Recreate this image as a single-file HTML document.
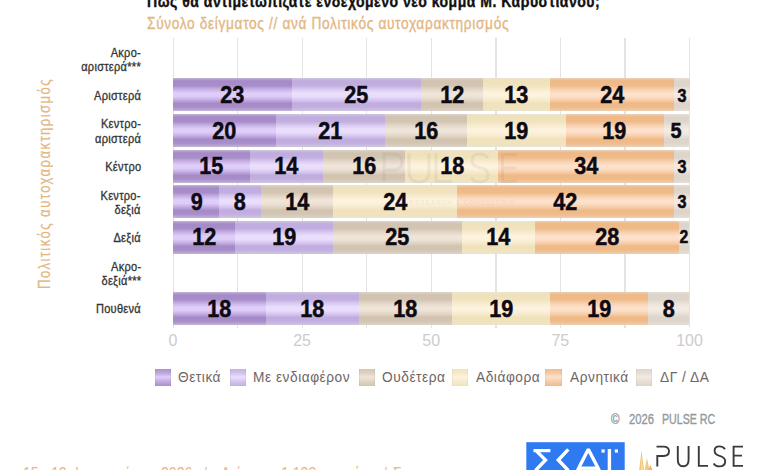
<!DOCTYPE html>
<html><head><meta charset="utf-8">
<style>
html,body{margin:0;padding:0;background:#fff;}
body{width:780px;height:470px;overflow:hidden;position:relative;font-family:"Liberation Sans",sans-serif;}
.abs{position:absolute;white-space:nowrap;}
.title{position:absolute;left:147px;top:-8.3px;font-weight:bold;font-size:17px;color:#111;white-space:nowrap;letter-spacing:0.6px;-webkit-text-stroke:0.4px #111;transform-origin:0 0;transform:scaleX(0.826);}
.sub{position:absolute;left:147px;top:13.5px;font-size:17px;color:#e3b682;white-space:nowrap;letter-spacing:0.8px;-webkit-text-stroke:0.35px #e3b682;transform-origin:0 0;transform:scaleX(0.807);}
.ytitle{position:absolute;left:35.5px;top:288.5px;font-size:16px;color:#e3b682;letter-spacing:1.75px;white-space:nowrap;-webkit-text-stroke:0.2px #e3b682;transform-origin:0 0;transform:rotate(-90deg) scaleX(0.82);}
.gl{position:absolute;top:38px;width:1.3px;height:290px;background:#e3e3e3;}
.seg{position:absolute;display:flex;align-items:center;justify-content:center;overflow:visible;}
.v{font-weight:bold;font-size:24px;color:#0d0a12;display:inline-block;transform:scaleX(0.9);line-height:1;-webkit-text-stroke:0.5px #0d0a12;}
.v.sm5{font-size:22px;}
.v.sm3{font-size:18px;margin-top:1.5px;}
.v.sm2{font-size:17.5px;margin-top:1px;}
.c1{background:linear-gradient(to bottom,#c2b6d6 0%,#b4a0cf 4%,#a58ac8 9%,#a88dca 23%,#c8b3e6 35%,#e0cefa 46%,#ddcbf8 56%,#c5afe4 66%,#a58ac8 77%,#a88dca 88%,#b4a0cf 94%,#c2b6d6 100%);}
.c2{background:linear-gradient(to bottom,#d0c7de 0%,#c8bade 4%,#c0acdf 9%,#c2afe0 23%,#dacbf1 35%,#ebdffd 46%,#e9dcfc 56%,#d8c8f0 66%,#c0acdf 77%,#c2afe0 88%,#c8bade 94%,#d0c7de 100%);}
.c3{background:linear-gradient(to bottom,#dcd4ca 0%,#d7ccbd 4%,#d2c3b0 9%,#d3c5b2 23%,#e3d7c8 35%,#efe5d8 46%,#eee3d6 56%,#e2d6c6 66%,#d2c3b0 77%,#d3c5b2 88%,#d7ccbd 94%,#dcd4ca 100%);}
.c4{background:linear-gradient(to bottom,#ebe4cf 0%,#ede3c5 4%,#efe2bb 9%,#f0e3bd 23%,#f7ecd0 35%,#fdf3de 46%,#fcf2dc 56%,#f7ebce 66%,#efe2bb 77%,#f0e3bd 88%,#ede3c5 94%,#ebe4cf 100%);}
.c5{background:linear-gradient(to bottom,#ead0b8 0%,#ecc49e 4%,#efb985 9%,#f0bb89 23%,#f7d1b0 35%,#fde1cc 46%,#fcdfc8 56%,#f7cfac 66%,#efb985 77%,#f0bb89 88%,#ecc49e 94%,#ead0b8 100%);}
.c6{background:linear-gradient(to bottom,#e4dfd8 0%,#e0dad1 4%,#ddd5ca 9%,#ded6cb 23%,#eae2d9 35%,#f3ebe3 46%,#f2eae2 56%,#e9e1d8 66%,#ddd5ca 77%,#ded6cb 88%,#e0dad1 94%,#e4dfd8 100%);}
.leg.c1{background:linear-gradient(to bottom,#ae94d0 0%,#baa2da 20%,#e0cefa 48%,#c0a9de 75%,#ab91cd 100%);box-shadow:inset 1px 0 1px rgba(0,0,0,0.05),inset -1px 0 1px rgba(0,0,0,0.05);}
.leg.c2{background:linear-gradient(to bottom,#c6b4e3 0%,#cfbeea 20%,#ebdffd 48%,#d3c3ec 75%,#c4b1e2 100%);box-shadow:inset 1px 0 1px rgba(0,0,0,0.05),inset -1px 0 1px rgba(0,0,0,0.05);}
.leg.c3{background:linear-gradient(to bottom,#d6c8b6 0%,#dccfbe 20%,#efe5d8 48%,#dfd2c2 75%,#d5c6b4 100%);box-shadow:inset 1px 0 1px rgba(0,0,0,0.05),inset -1px 0 1px rgba(0,0,0,0.05);}
.leg.c4{background:linear-gradient(to bottom,#f1e5c0 0%,#f4e8c7 20%,#fdf3de 48%,#f5eacb 75%,#f0e4be 100%);box-shadow:inset 1px 0 1px rgba(0,0,0,0.05),inset -1px 0 1px rgba(0,0,0,0.05);}
.leg.c5{background:linear-gradient(to bottom,#f1bf90 0%,#f4c79e 20%,#fde1cc 48%,#f5cba5 75%,#f0bd8c 100%);box-shadow:inset 1px 0 1px rgba(0,0,0,0.05),inset -1px 0 1px rgba(0,0,0,0.05);}
.leg.c6{background:linear-gradient(to bottom,#e0d8ce 0%,#e5ddd3 20%,#f3ebe3 48%,#e7dfd5 75%,#dfd7cc 100%);box-shadow:inset 1px 0 1px rgba(0,0,0,0.05),inset -1px 0 1px rgba(0,0,0,0.05);}
.cat{position:absolute;right:639px;font-size:12px;color:#333;text-align:right;line-height:14.3px;letter-spacing:0.3px;transform-origin:100% 50%;transform:translateY(-50%) scaleX(0.92);margin-top:0.9px;white-space:nowrap;-webkit-text-stroke:0.3px #333;}
.tk{position:absolute;top:332px;width:60px;text-align:center;font-size:16px;color:#cccccc;}
.leg{position:absolute;top:369px;width:16.5px;height:16.5px;}
.lt{position:absolute;top:368px;font-size:15.5px;color:#6e6566;white-space:nowrap;line-height:18px;letter-spacing:0.6px;transform-origin:0 50%;transform:scaleX(0.885);}
.copy{position:absolute;top:411px;font-size:14px;color:#91989c;white-space:nowrap;-webkit-text-stroke:0.35px #91989c;transform-origin:0 0;transform:scaleX(0.82);}
.ft{position:absolute;top:464.5px;font-size:16px;color:#ecb680;white-space:nowrap;transform-origin:0 0;transform:scaleX(0.88);}
</style></head><body>
<div class="title">Πώς θα αντιμετωπίζατε ενδεχόμενο νέο κόμμα Μ. Καρυστιανού;</div>
<div class="sub">Σύνολο δείγματος // ανά Πολιτικός αυτοχαρακτηρισμός</div>
<div class="ytitle">Πολιτικός αυτοχαρακτηρισμός</div>
<div class="gl" style="left:172.50px"></div>
<div class="gl" style="left:237.06px"></div>
<div class="gl" style="left:301.62px"></div>
<div class="gl" style="left:366.19px"></div>
<div class="gl" style="left:430.75px"></div>
<div class="gl" style="left:495.31px"></div>
<div class="gl" style="left:559.88px"></div>
<div class="gl" style="left:624.44px"></div>
<div class="gl" style="left:689.00px"></div>
<div class="seg c1" style="left:173.00px;top:78.40px;width:118.80px;height:33px"><span class="v">23</span></div>
<div class="seg c2" style="left:291.80px;top:78.40px;width:129.12px;height:33px"><span class="v">25</span></div>
<div class="seg c3" style="left:420.92px;top:78.40px;width:61.98px;height:33px"><span class="v">12</span></div>
<div class="seg c4" style="left:482.90px;top:78.40px;width:67.15px;height:33px"><span class="v">13</span></div>
<div class="seg c5" style="left:550.05px;top:78.40px;width:123.96px;height:33px"><span class="v">24</span></div>
<div class="seg c6" style="left:674.00px;top:78.40px;width:15.50px;height:33px"><span class="v sm3">3</span></div>
<div class="seg c1" style="left:173.00px;top:114.00px;width:103.30px;height:33px"><span class="v">20</span></div>
<div class="seg c2" style="left:276.30px;top:114.00px;width:108.46px;height:33px"><span class="v">21</span></div>
<div class="seg c3" style="left:384.76px;top:114.00px;width:82.64px;height:33px"><span class="v">16</span></div>
<div class="seg c4" style="left:467.41px;top:114.00px;width:98.13px;height:33px"><span class="v">19</span></div>
<div class="seg c5" style="left:565.54px;top:114.00px;width:98.13px;height:33px"><span class="v">19</span></div>
<div class="seg c6" style="left:663.67px;top:114.00px;width:25.83px;height:33px"><span class="v sm5">5</span></div>
<div class="seg c1" style="left:173.00px;top:149.60px;width:77.47px;height:33px"><span class="v">15</span></div>
<div class="seg c2" style="left:250.47px;top:149.60px;width:72.31px;height:33px"><span class="v">14</span></div>
<div class="seg c3" style="left:322.78px;top:149.60px;width:82.64px;height:33px"><span class="v">16</span></div>
<div class="seg c4" style="left:405.43px;top:149.60px;width:92.97px;height:33px"><span class="v">18</span></div>
<div class="seg c5" style="left:498.39px;top:149.60px;width:175.61px;height:33px"><span class="v">34</span></div>
<div class="seg c6" style="left:674.00px;top:149.60px;width:15.50px;height:33px"><span class="v sm3">3</span></div>
<div class="seg c1" style="left:173.00px;top:185.20px;width:46.49px;height:33px"><span class="v">9</span></div>
<div class="seg c2" style="left:219.49px;top:185.20px;width:41.32px;height:33px"><span class="v">8</span></div>
<div class="seg c3" style="left:260.81px;top:185.20px;width:72.31px;height:33px"><span class="v">14</span></div>
<div class="seg c4" style="left:333.12px;top:185.20px;width:123.96px;height:33px"><span class="v">24</span></div>
<div class="seg c5" style="left:457.07px;top:185.20px;width:216.93px;height:33px"><span class="v">42</span></div>
<div class="seg c6" style="left:674.00px;top:185.20px;width:15.50px;height:33px"><span class="v sm3">3</span></div>
<div class="seg c1" style="left:173.00px;top:220.80px;width:61.98px;height:33px"><span class="v">12</span></div>
<div class="seg c2" style="left:234.98px;top:220.80px;width:98.13px;height:33px"><span class="v">19</span></div>
<div class="seg c3" style="left:333.12px;top:220.80px;width:129.12px;height:33px"><span class="v">25</span></div>
<div class="seg c4" style="left:462.24px;top:220.80px;width:72.31px;height:33px"><span class="v">14</span></div>
<div class="seg c5" style="left:534.55px;top:220.80px;width:144.62px;height:33px"><span class="v">28</span></div>
<div class="seg c6" style="left:679.17px;top:220.80px;width:10.33px;height:33px"><span class="v sm2">2</span></div>
<div class="seg c1" style="left:173.00px;top:292.00px;width:92.97px;height:33px"><span class="v">18</span></div>
<div class="seg c2" style="left:265.97px;top:292.00px;width:92.97px;height:33px"><span class="v">18</span></div>
<div class="seg c3" style="left:358.94px;top:292.00px;width:92.97px;height:33px"><span class="v">18</span></div>
<div class="seg c4" style="left:451.91px;top:292.00px;width:98.14px;height:33px"><span class="v">19</span></div>
<div class="seg c5" style="left:550.05px;top:292.00px;width:98.13px;height:33px"><span class="v">19</span></div>
<div class="seg c6" style="left:648.18px;top:292.00px;width:41.32px;height:33px"><span class="v">8</span></div>
<div class="cat two" style="top:59.30px">Ακρο-<br>αριστερά***</div>
<div class="cat" style="top:94.90px">Αριστερά</div>
<div class="cat two" style="top:130.50px">Κεντρο-<br>αριστερά</div>
<div class="cat" style="top:166.10px">Κέντρο</div>
<div class="cat two" style="top:201.70px">Κεντρο-<br>δεξιά</div>
<div class="cat" style="top:237.30px">Δεξιά</div>
<div class="cat two" style="top:272.90px">Ακρο-<br>δεξιά***</div>
<div class="cat" style="top:308.50px">Πουθενά</div>
<div class="tk" style="left:143.00px">0</div>
<div class="tk" style="left:272.12px">25</div>
<div class="tk" style="left:401.25px">50</div>
<div class="tk" style="left:530.38px">75</div>
<div class="tk" style="left:659.50px">100</div>
<svg class="abs" style="left:0;top:0" width="780" height="470" viewBox="0 0 780 470">
<g fill="none" stroke="rgba(110,110,110,0.085)" stroke-width="3">
<path d="M384 182 V154 H393 Q402 154 402 162 Q402 170 393 170 H384"/>
<path d="M409 153.5 V171 Q409 182 419 182 Q429 182 429 171 V153.5"/>
<path d="M436 153.5 V181.5 H452"/>
<path d="M488 158 Q485 154 479.5 154 Q472 154 472 160.5 Q472 166 479.5 167.5 Q488 169 488 175 Q488 182 479.5 182 Q474 182 471 177.5"/>
<path d="M517 154.5 H502.5 V181.5 H517 M502.5 168 H516"/>
</g>
<text x="409.5" y="205" font-family="Liberation Sans" font-size="6.5" letter-spacing="0.9" fill="rgba(110,110,110,0.13)">RESEARCH &amp; CONSULTING</text>
</svg>

<div class="leg c1" style="left:154.5px"></div><div class="lt" style="left:178px">Θετικά</div>
<div class="leg c2" style="left:229.8px"></div><div class="lt" style="left:253px">Με ενδιαφέρον</div>
<div class="leg c3" style="left:358.6px"></div><div class="lt" style="left:381.5px">Ουδέτερα</div>
<div class="leg c4" style="left:451.5px"></div><div class="lt" style="left:476px">Αδιάφορα</div>
<div class="leg c5" style="left:545.4px"></div><div class="lt" style="left:570px">Αρνητικά</div>
<div class="leg c6" style="left:635.7px"></div><div class="lt" style="left:660px">ΔΓ / ΔΑ</div>
<div class="copy" style="left:610.5px">©</div><div class="copy" style="left:628.5px;transform:scaleX(0.8)">2026</div><div class="copy" style="left:661.5px;transform:scaleX(0.76)">PULSE RC</div>
<svg class="abs" style="left:0;top:0" width="780" height="470" viewBox="0 0 780 470">
<rect x="526.3" y="442.2" width="98.4" height="30" fill="#2f7af0"/>
<g fill="none" stroke="#fff" stroke-width="3.4" stroke-linejoin="miter">
<path d="M533.5 450.6 H550.4 M536 450.6 L545.5 460 L535.5 470.5"/>
<path d="M568.3 449.3 L558.3 460 L568.3 470.5"/>
<path d="M577.5 470.5 L588.3 449.3 L599.3 470.5" stroke-miterlimit="1.5"/>
<path d="M579 468.2 H598"/>
<path d="M609.4 449 V471"/>
</g>
<rect x="601.5" y="449.4" width="3.2" height="3.2" fill="#fff"/>
<rect x="614.8" y="449.4" width="3.2" height="3.2" fill="#fff"/>
<g opacity="0.9"><polygon points="639.2,470 641.5,450.5 644,470" fill="#efc070"/><polygon points="641,470 641.6,456 642.8,470" fill="#f8dc9c"/><polygon points="644.6,470 647,458 649.4,470" fill="#f0c478"/><polygon points="648,470 650.3,465 652.5,470" fill="#eeb066"/></g>
<g fill="none" stroke="#3b3b3d" stroke-width="1.9">
<path d="M656.5 446.6 H663.5 Q669 446.6 669 451.3 Q669 456 663.5 456 H657.3 V466.5"/>
<path d="M677.8 446 V459.5 Q677.8 466.3 683.2 466.3 Q688.6 466.3 688.6 459.5 V446"/>
<path d="M698.8 446 V465.9 H708"/>
<path d="M725 449.2 Q723 446.4 719.5 446.4 Q714.6 446.4 714.6 450.8 Q714.6 454.6 719.5 455.8 Q725.2 457.3 725.2 461.3 Q725.2 466.4 719.5 466.4 Q715.5 466.4 713.6 463.4"/>
<path d="M743 446.6 H733.6 V465.9 H743 M733.6 455.6 H742"/>
</g>
</svg>
<div class="ft" style="left:23px">15 - 19</div><div class="ft" style="left:74.5px">Ιανουαρίου</div><div class="ft" style="left:160.5px">2026</div><div class="ft" style="left:203px">/</div><div class="ft" style="left:220.5px">Δείγμα:</div><div class="ft" style="left:281px">1.123</div><div class="ft" style="left:321px">ερωτώμενοι</div><div class="ft" style="left:383px">/</div><div class="ft" style="left:393px">Σ</div>
</body></html>
